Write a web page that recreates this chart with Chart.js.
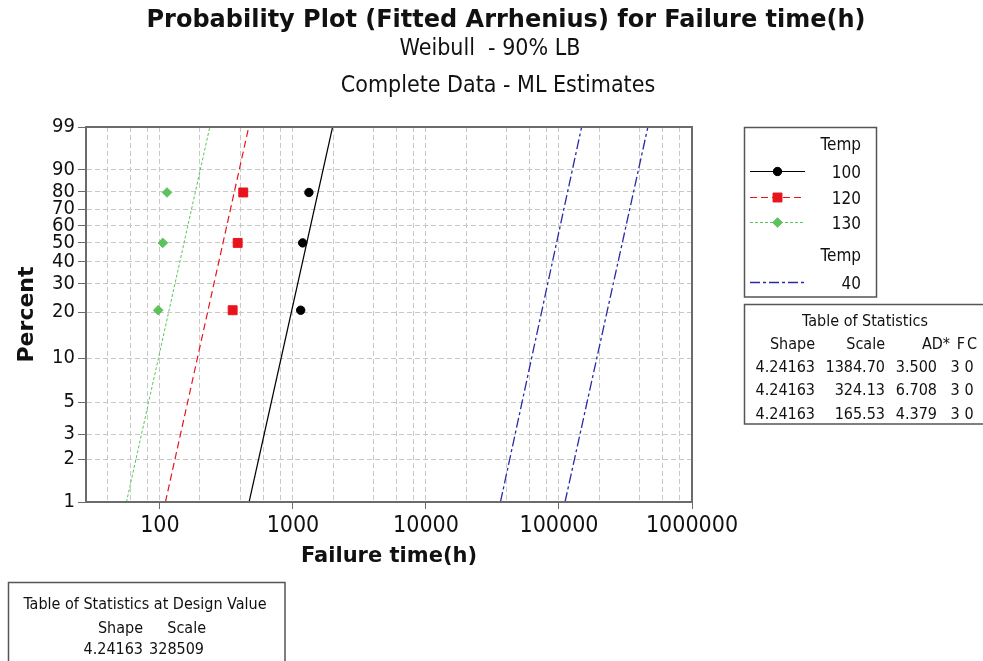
<!DOCTYPE html>
<html>
<head>
<meta charset="utf-8">
<title>Probability Plot (Fitted Arrhenius) for Failure time(h)</title>
<script src="https://cdn.jsdelivr.net/npm/chart.js@4.4.1/dist/chart.umd.min.js"></script>
<style>
  html, body { margin: 0; padding: 0; background: #fff; }
</style>
</head>
<body>
<canvas id="grafica" width="983" height="661"></canvas>
<script>
// plotting positions (median ranks, 3 failures per temperature)
const rankPct = [20.6, 50, 79.4];
const temp100 = [1143, 1183, 1318];
const temp120 = [352, 384, 423];
const temp130 = [97, 105, 113];

// fitted lines, ends at 1% and 99%
const fitPct = [1, 99];
const fit100 = [468, 1985];
const fit120 = [110, 465];
const fit130 = [56, 237];
const fit40 = [111000, 466000];
const fit40LB = [36300, 148000];

const percentTicks = [1, 2, 3, 5, 10, 20, 30, 40, 50, 60, 70, 80, 90, 99];
const timeGrid = [40, 60, 80, 100, 200, 400, 600, 800, 1000, 2000, 4000, 6000, 8000,
  10000, 20000, 40000, 60000, 80000, 100000, 200000, 400000, 600000, 800000, 1000000];
const timeLabels = [100, 1000, 10000, 100000, 1000000];

const tempNames = ['100', '120', '130'];
const designTemp = '40';
const statsHead = ['Shape', 'Scale', 'AD*', 'F', 'C'];
const statsRows = [
  ['4.24163', '1384.70', '3.500', '3', '0'],
  ['4.24163', '324.13', '6.708', '3', '0'],
  ['4.24163', '165.53', '4.379', '3', '0']
];
const designHead = ['Shape', 'Scale'];
const designRow = ['4.24163', '328509'];

const SANS = "'DejaVu Sans Condensed', 'DejaVu Sans', sans-serif";
const BOLD = "'DejaVu Sans', sans-serif";
const GRID = '#c8c8c8';
const FRAME = '#6b6b6b';

// Weibull probability axis: linear in ln(-ln(1-p))
const wb = p => Math.log(-Math.log(1 - p / 100));

class WeibullScale extends Chart.Scale {
  determineDataLimits() {
    this.min = this.options.min;
    this.max = this.options.max;
  }
  buildTicks() {
    return percentTicks.map(v => ({ value: v }));
  }
  getLabelForValue(v) { return String(v); }
  configure() {
    super.configure();
    this._lo = wb(this.min);
    this._range = wb(this.max) - this._lo;
  }
  getPixelForValue(v) {
    return this.getPixelForDecimal((wb(v) - this._lo) / this._range);
  }
  getValueForPixel(px) {
    const d = this.getDecimalForPixel(px);
    return 100 * (1 - Math.exp(-Math.exp(this._lo + d * this._range)));
  }
}
WeibullScale.id = 'weibull';
WeibullScale.defaults = {};
Chart.register(WeibullScale);

const pts = (xs, ps) => xs.map((x, i) => ({ x: x, y: ps[i] }));

const styles = {
  t100: { color: '#000000', dash: [], width: 1.2, marker: 'circle', radius: 4.2 },
  t120: { color: '#e8141c', dash: [7, 4], width: 1.2, marker: 'rect', radius: 6.3 },
  t130: { color: '#5cc35c', dash: [3, 2], width: 1, marker: 'rectRot', radius: 4.8 },
  t40: { color: '#2a2aa6', dash: [10, 3, 3, 3], width: 1.3 }
};

function pointSet(data, s) {
  return { data: pts(data, rankPct), showLine: false, pointStyle: s.marker, pointRadius: s.radius,
    backgroundColor: s.color, borderColor: s.color, borderWidth: 1 };
}
function lineSet(data, s) {
  return { data: pts(data, fitPct), showLine: true, pointRadius: 0, borderColor: s.color,
    borderWidth: s.width, borderDash: s.dash, fill: false };
}

function txt(ctx, s, x, y, font, align) {
  ctx.font = font;
  ctx.textAlign = align || 'center';
  ctx.textBaseline = 'alphabetic';
  ctx.fillStyle = '#111';
  ctx.fillText(s, x, y);
}

function sample(ctx, x1, x2, y, s) {
  ctx.save();
  ctx.strokeStyle = s.color;
  ctx.lineWidth = s.width;
  ctx.setLineDash(s.dash);
  ctx.beginPath();
  ctx.moveTo(x1, y);
  ctx.lineTo(x2, y);
  ctx.stroke();
  ctx.setLineDash([]);
  if (s.marker) {
    ctx.fillStyle = s.color;
    ctx.strokeStyle = s.color;
    ctx.lineWidth = 1;
    Chart.helpers.drawPoint(ctx, { pointStyle: s.marker, radius: s.radius, rotation: 0, borderWidth: 1 }, (x1 + x2) / 2, y);
  }
  ctx.restore();
}

// headings, frame, legend and the two statistics tables
const extras = {
  id: 'extras',
  afterDraw(chart) {
    const ctx = chart.ctx;
    const a = chart.chartArea;
    ctx.save();
    ctx.strokeStyle = FRAME;
    ctx.lineWidth = 2;
    ctx.strokeRect(a.left, a.top, a.right - a.left, a.bottom - a.top);

    txt(ctx, 'Probability Plot (Fitted Arrhenius) for Failure time(h)', 506, 27, 'bold 24px ' + BOLD);
    txt(ctx, 'Weibull  - 90% LB', 490, 55, '23px ' + SANS);
    txt(ctx, 'Complete Data - ML Estimates', 498, 92, '23px ' + SANS);

    // legend
    ctx.strokeStyle = '#555';
    ctx.lineWidth = 1.5;
    ctx.strokeRect(744.5, 127.5, 132, 169.5);
    const lf = '17px ' + SANS;
    txt(ctx, 'Temp', 861, 150, lf, 'right');
    [styles.t100, styles.t120, styles.t130].forEach((s, i) => {
      const y = [171.5, 197.5, 222.5][i];
      sample(ctx, 750, 805, y, s);
      txt(ctx, tempNames[i], 861, y + 6.3, lf, 'right');
    });
    txt(ctx, 'Temp', 861, 261, lf, 'right');
    sample(ctx, 750, 805, 282.5, styles.t40);
    txt(ctx, designTemp, 861, 288.8, lf, 'right');

    // table of statistics
    ctx.strokeStyle = '#555';
    ctx.strokeRect(744.5, 304.5, 250, 119.5);
    const tf = '16px ' + SANS;
    txt(ctx, 'Table of Statistics', 865, 326, tf);
    txt(ctx, statsHead[0], 815, 348.5, tf, 'right');
    txt(ctx, statsHead[1], 885, 348.5, tf, 'right');
    txt(ctx, statsHead[2], 950, 348.5, tf, 'right');
    txt(ctx, statsHead[3], 961, 348.5, tf);
    txt(ctx, statsHead[4], 972, 348.5, tf);
    statsRows.forEach((r, i) => {
      const y = 372 + i * 23.3;
      txt(ctx, r[0], 815, y, tf, 'right');
      txt(ctx, r[1], 885, y, tf, 'right');
      txt(ctx, r[2], 937, y, tf, 'right');
      txt(ctx, r[3], 955, y, tf);
      txt(ctx, r[4], 969, y, tf);
    });

    // design value table
    ctx.strokeRect(8.5, 582.5, 276.5, 100);
    txt(ctx, 'Table of Statistics at Design Value', 145, 609, tf);
    txt(ctx, designHead[0], 143, 632.5, tf, 'right');
    txt(ctx, designHead[1], 206, 632.5, tf, 'right');
    txt(ctx, designRow[0], 143, 654, tf, 'right');
    txt(ctx, designRow[1], 204, 654, tf, 'right');
    ctx.restore();
  }
};

new Chart(document.getElementById('grafica'), {
  type: 'scatter',
  data: {
    datasets: [
      pointSet(temp100, styles.t100),
      pointSet(temp120, styles.t120),
      pointSet(temp130, styles.t130),
      lineSet(fit100, styles.t100),
      lineSet(fit120, styles.t120),
      lineSet(fit130, styles.t130),
      lineSet(fit40, styles.t40),
      lineSet(fit40LB, styles.t40)
    ]
  },
  options: {
    responsive: false,
    devicePixelRatio: 1,
    animation: false,
    layout: { padding: { left: 0, top: 127, right: 291, bottom: 0 } },
    plugins: { legend: { display: false }, tooltip: { enabled: false } },
    scales: {
      x: {
        type: 'logarithmic',
        min: 27.8,
        max: 1000000,
        afterBuildTicks: s => { s.ticks = timeGrid.map(v => ({ value: v })); },
        afterFit: s => { s.height = 159; },
        ticks: {
          autoSkip: false, maxRotation: 0, padding: 3, color: '#111',
          font: { family: SANS, size: 23 },
          callback: v => timeLabels.includes(v) ? String(v) : ''
        },
        grid: {
          color: GRID, lineWidth: 1, tickLength: 7, tickBorderDash: [],
          tickColor: c => (c.tick && timeLabels.includes(c.tick.value)) ? FRAME : 'rgba(0,0,0,0)'
        },
        border: { color: FRAME, width: 2, dash: [5, 3] },
        title: {
          display: true, text: 'Failure time(h)', color: '#111',
          font: { family: BOLD, size: 21, weight: 'bold' },
          padding: { top: 0, bottom: 92 }
        }
      },
      y: {
        type: 'weibull',
        min: 1,
        max: 99,
        afterFit: s => { s.width = 86; },
        ticks: { autoSkip: false, padding: 3, color: '#111', font: { family: SANS, size: 20 } },
        grid: { color: GRID, lineWidth: 1, tickLength: 8, tickColor: FRAME, tickBorderDash: [] },
        border: { color: FRAME, width: 2, dash: [5, 3] },
        title: {
          display: true, text: 'Percent', color: '#111',
          font: { family: BOLD, size: 22, weight: 'bold' },
          padding: { top: 14, bottom: 0 }
        }
      }
    }
  },
  plugins: [extras]
});
</script>
</body>
</html>
